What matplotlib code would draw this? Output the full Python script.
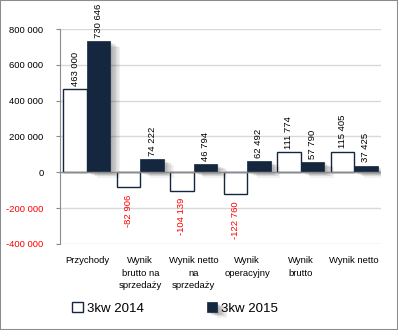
import numpy as np
import matplotlib.pyplot as plt
import matplotlib.patheffects as pe
from matplotlib.patches import Rectangle

kategorie = ["Przychody", "Wynik\nbrutto na\nsprzedaży", "Wynik netto\nna\nsprzedaży",
             "Wynik\noperacyjny", "Wynik\nbrutto", "Wynik netto"]
kw2014 = [463000, -82906, -104139, -122760, 111774, 115405]
kw2015 = [730646, 74222, 46794, 62492, 57790, 37425]
yticks = [-400000, -200000, 0, 200000, 400000, 600000, 800000]

granat = "#14273f"
plt.rcParams['font.family'] = ['Liberation Sans', 'DejaVu Sans']


def fmt(v):
    return "{:,}".format(v).replace(",", " ")


fig = plt.figure(figsize=(3.98, 3.30), dpi=100)
fig.patches.append(Rectangle((0, 0), 1, 1, transform=fig.transFigure, fill=False,
                             edgecolor="#8c8c8c", linewidth=1.5))
ax = fig.add_axes([0.151, 0.261, 0.806, 0.651])

x = np.arange(len(kategorie))
w = 0.44
# miękki cień: kilka półprzezroczystych warstw z różnym przesunięciem
cien = [pe.SimplePatchShadow(offset=(dx, -dy), shadow_rgbFace="#000000", alpha=0.05)
        for dx, dy in [(1, 1), (2, 1), (3, 2), (4, 2), (5, 3), (6, 3), (7, 4)]] + [pe.Normal()]
b1 = ax.bar(x - w / 2, kw2014, w, color="white", edgecolor=granat, linewidth=1.0,
            label="3kw 2014", zorder=3)
b2 = ax.bar(x + w / 2, kw2015, w, color=granat, edgecolor=granat, linewidth=0.5,
            label="3kw 2015", zorder=3, path_effects=cien)

# etykiety wartości nad/pod słupkami
for bars, vals in ((b1, kw2014), (b2, kw2015)):
    for b, v in zip(bars, vals):
        xc = b.get_x() + b.get_width() / 2
        if v >= 0:
            ax.text(xc, v + 18000, fmt(v), rotation=90, ha="center", va="bottom",
                    fontsize=6.8, color="black", clip_on=False, zorder=5)
        else:
            ax.text(xc, v - 40000, fmt(v), rotation=90, ha="center", va="top",
                    fontsize=6.8, color="red", clip_on=False, zorder=5)

ax.set_xlim(-0.5, len(kategorie) - 0.5)
ax.set_ylim(-400000, 800000)
ax.set_yticks(yticks)
ax.set_yticklabels([fmt(t) for t in yticks], fontsize=6.8)
for lab, t in zip(ax.get_yticklabels(), yticks):
    lab.set_color("red" if t < 0 else "black")
ax.set_xticks(x)
ax.set_xticklabels(kategorie, fontsize=6.8, linespacing=1.45)
ax.tick_params(axis="x", length=0, pad=9)
ax.tick_params(axis="y", length=3, color="#888888", pad=9)

ax.grid(axis="y", color="#d9d9d9", linewidth=1, zorder=0)
ax.axhline(0, color="#8c8c8c", linewidth=1, zorder=4)
for s in ("top", "right", "bottom"):
    ax.spines[s].set_visible(False)
ax.spines["left"].set_color("#8c8c8c")

leg = fig.legend(handles=[b1, b2], loc="center", bbox_to_anchor=(0.44, 0.065), ncol=2,
                 frameon=False, fontsize=9.5, handlelength=0.8, handleheight=0.8,
                 handletextpad=0.3, columnspacing=4.8)

fig.savefig("out.png", dpi=100)
